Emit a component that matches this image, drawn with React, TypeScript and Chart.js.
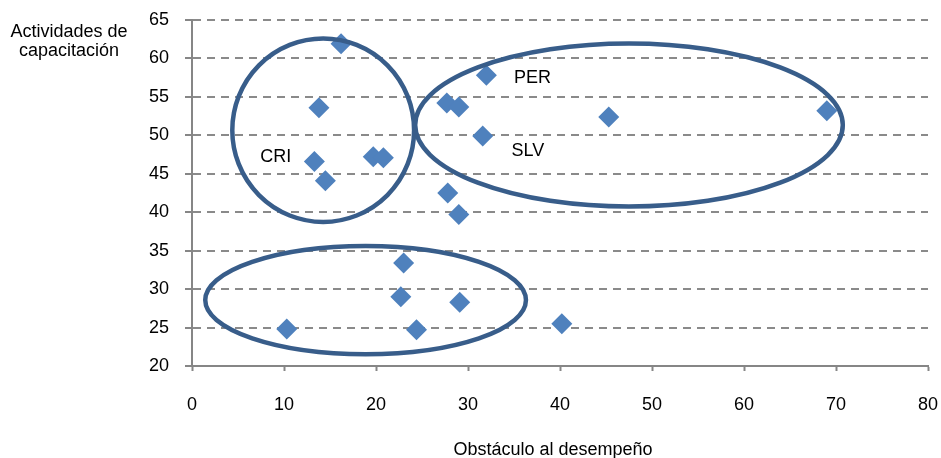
import React, { useEffect, useRef } from 'react';
import { Chart, registerables } from 'chart.js';

Chart.register(...registerables);

// Obstáculo al desempeño (x) vs Actividades de capacitación (y)
const obstaculo = [16.2, 13.8, 13.3, 14.5, 19.7, 20.8, 27.7, 29.0, 32.0, 31.6, 45.3, 69.0, 27.8, 29.0, 23.0, 22.7, 29.1, 10.3, 24.4, 40.2];
const capacitacion = [61.9, 53.6, 46.6, 44.1, 47.2, 47.1, 54.2, 53.7, 57.8, 49.9, 52.4, 53.2, 42.5, 39.7, 33.4, 29.0, 28.3, 24.8, 24.7, 25.5];

const groupLabels = ['CRI', 'PER', 'SLV'];
const groupLabelX = [9.1, 37.0, 36.5];
const groupLabelY = [47.2, 57.5, 47.9];

const xTitle = 'Obstáculo al desempeño';
const yTitleLines = ['Actividades de', 'capacitación'];

// group ellipses in data units: center x, center y, radius x, radius y
const ellipseCX = [14.26, 47.5, 18.87];
const ellipseCY = [50.67, 51.34, 28.57];
const ellipseRX = [9.88, 23.24, 17.43];
const ellipseRY = [11.93, 10.6, 7.04];

const FONT = "'Liberation Sans', Arial, sans-serif";

const overlayPlugin = {
  id: 'overlay',
  afterDatasetsDraw(chart: any) {
    const { ctx, scales } = chart;
    const x = scales.x;
    const y = scales.y;
    ctx.save();
    for (let i = 0; i < ellipseCX.length; i++) {
      const cx = x.getPixelForValue(ellipseCX[i]);
      const cy = y.getPixelForValue(ellipseCY[i]);
      const rx = Math.abs(x.getPixelForValue(ellipseCX[i] + ellipseRX[i]) - cx);
      const ry = Math.abs(y.getPixelForValue(ellipseCY[i] + ellipseRY[i]) - cy);
      ctx.beginPath();
      ctx.ellipse(cx, cy, rx, ry, 0, 0, Math.PI * 2);
      ctx.lineWidth = 4.5;
      ctx.strokeStyle = '#385D8A';
      ctx.stroke();
    }
    ctx.fillStyle = '#000';
    ctx.font = `18px ${FONT}`;
    ctx.textAlign = 'center';
    ctx.textBaseline = 'middle';
    for (let i = 0; i < groupLabels.length; i++) {
      ctx.fillText(groupLabels[i], x.getPixelForValue(groupLabelX[i]), y.getPixelForValue(groupLabelY[i]));
    }
    ctx.restore();
  },
  afterDraw(chart: any) {
    const { ctx } = chart;
    ctx.save();
    ctx.fillStyle = '#000';
    ctx.font = `18px ${FONT}`;
    ctx.textAlign = 'center';
    ctx.textBaseline = 'alphabetic';
    ctx.fillText(yTitleLines[0], 69, 36.5);
    ctx.fillText(yTitleLines[1], 69, 55.5);
    ctx.fillText(xTitle, 553, 455);
    ctx.restore();
  },
};

export default function App() {
  const ref = useRef<HTMLCanvasElement | null>(null);
  useEffect(() => {
    document.body.style.margin = '0';
    const canvas = ref.current;
    if (!canvas) return;
    const points = obstaculo.map((v, i) => ({ x: v, y: capacitacion[i] }));
    const chart = new Chart(canvas, {
      type: 'scatter',
      data: {
        datasets: [
          {
            label: 'Países',
            data: points,
            pointStyle: 'rectRot',
            pointRadius: 10.5,
            pointHoverRadius: 10.5,
            backgroundColor: '#4F81BD',
            borderColor: '#4F81BD',
            borderWidth: 0,
          },
        ],
      },
      options: {
        animation: false,
        responsive: false,
        devicePixelRatio: 1,
        layout: { padding: { left: 0, top: 20, right: 13, bottom: 0 } },
        plugins: {
          legend: { display: false },
          tooltip: { enabled: false },
          title: { display: false },
        },
        scales: {
          x: {
            type: 'linear',
            min: 0,
            max: 80,
            ticks: {
              stepSize: 10,
              color: '#000',
              font: { family: FONT, size: 18 },
              padding: 23,
              maxRotation: 0,
            },
            grid: {
              drawOnChartArea: false,
              drawTicks: true,
              tickLength: 5,
              tickColor: '#868686',
              tickWidth: 2,
            },
            border: { display: true, color: '#868686', width: 2 },
            afterFit: (scale: any) => {
              scale.height = 92;
              scale.paddingLeft = 0;
              scale.paddingRight = 0;
            },
          },
          y: {
            type: 'linear',
            min: 20,
            max: 65,
            ticks: {
              stepSize: 5,
              color: '#000',
              font: { family: FONT, size: 18 },
              padding: 16,
            },
            grid: {
              drawOnChartArea: true,
              color: '#8A8A8A',
              lineWidth: 2,
              drawTicks: true,
              tickLength: 7,
              tickColor: '#868686',
              tickWidth: 2,
            },
            border: { display: true, color: '#868686', width: 2, dash: [8, 6] },
            afterFit: (scale: any) => {
              scale.width = 192;
              scale.paddingTop = 0;
              scale.paddingBottom = 0;
            },
          },
        },
      },
      plugins: [overlayPlugin],
    });
    return () => chart.destroy();
  }, []);
  return (
    <div style={{ width: 941, height: 458 }}>
      <canvas ref={ref} width={941} height={458} style={{ display: 'block' }} />
    </div>
  );
}
